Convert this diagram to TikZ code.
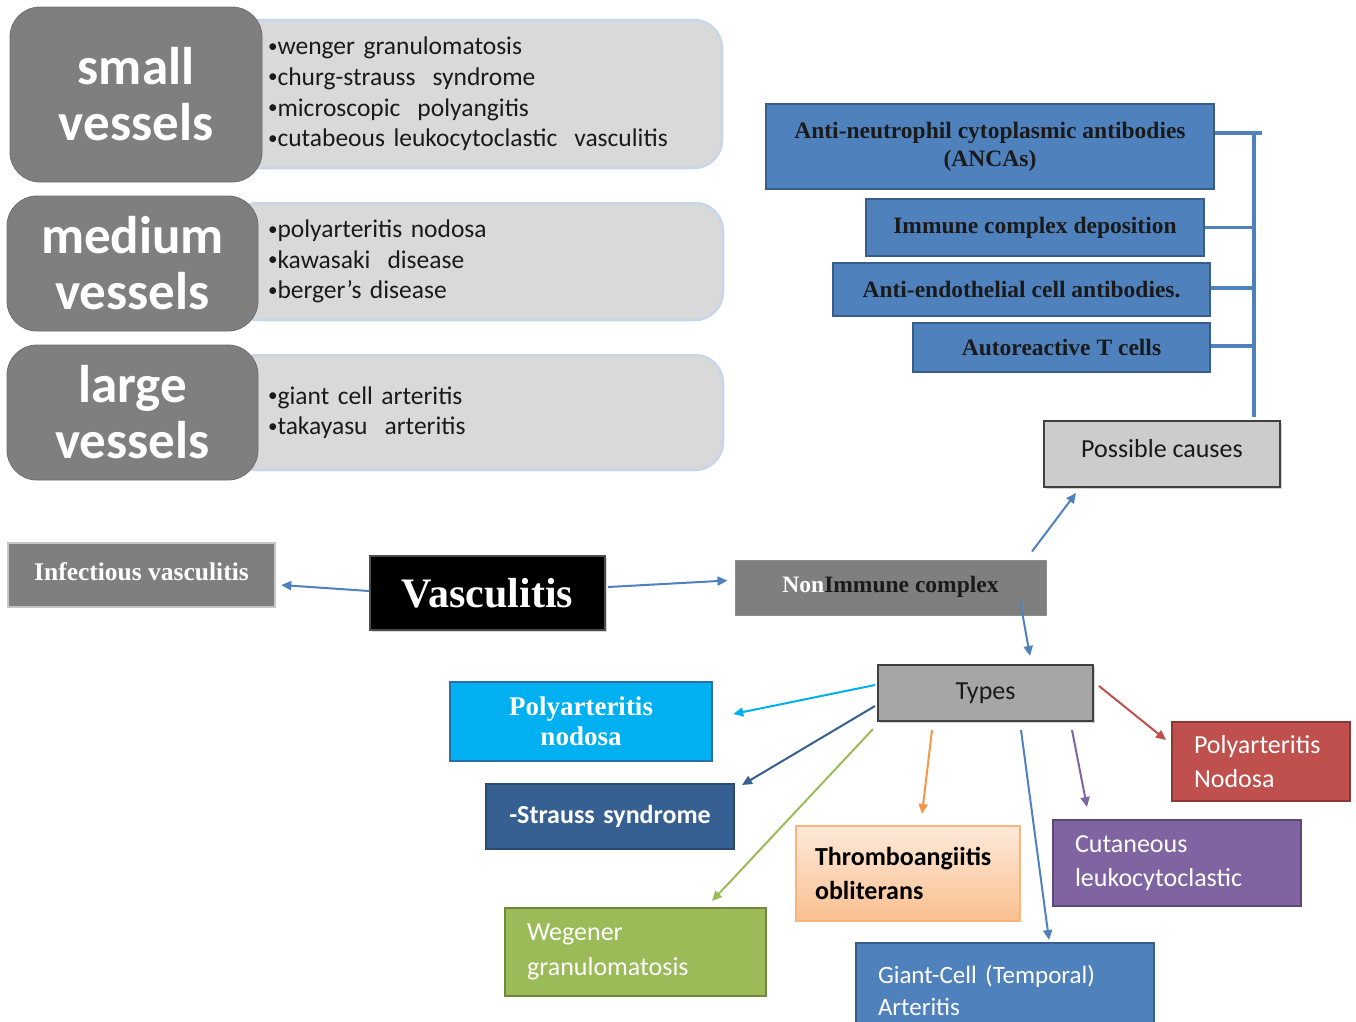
\documentclass[tikz,border=0pt]{standalone}
\usepackage{fontspec}
\setmainfont{Carlito}
\newfontfamily\serifb{Liberation Serif}
\usetikzlibrary{arrows.meta,shadows}
\newcommand\mybul{\raisebox{0.1em}{\scalebox{0.75}{•}}}
\definecolor{dgray}{HTML}{7F7F7F}
\definecolor{lgray}{HTML}{D9D9D9}
\definecolor{lborder}{HTML}{C9D6EA}
\definecolor{oblue}{HTML}{4F81BD}
\definecolor{oblueb}{HTML}{385D8A}
\definecolor{ocyan}{HTML}{00B0F0}
\definecolor{ocyanb}{HTML}{2A6FA8}
\definecolor{odblue}{HTML}{376092}
\definecolor{odblueb}{HTML}{2A4A70}
\definecolor{ogreen}{HTML}{9BBB59}
\definecolor{ogreenb}{HTML}{71893F}
\definecolor{opurple}{HTML}{8064A2}
\definecolor{opurpleb}{HTML}{5C4776}
\definecolor{ored}{HTML}{C0504D}
\definecolor{oredb}{HTML}{8C3836}
\definecolor{oorange}{HTML}{F79646}
\definecolor{peachtop}{HTML}{FDE9D9}
\definecolor{peachbot}{HTML}{FAC090}
\definecolor{ink}{HTML}{1A1A1A}
\tikzset{
  vesselbox/.style={fill=dgray, draw=dgray!85!black, line width=0.8pt, rounded corners=30pt,
    text=white, font=\fontsize{53}{56}\selectfont\bfseries, align=center, inner sep=0pt},
  listbox/.style={fill=lgray, draw=lborder, line width=2.5pt, rounded corners=28pt,
    font=\fontsize{25.5}{30.6}\selectfont, text=ink, align=left, inner xsep=38pt, inner ysep=0pt},
  bluebox/.style={fill=oblue, draw=oblueb, line width=2pt, text=ink,
    font=\serifb\bfseries\fontsize{23.5}{28}\selectfont, align=center, inner sep=0pt},
  graybox/.style={fill=dgray, draw=lgray!80!gray, line width=2.5pt, text=white,
    font=\serifb\bfseries\fontsize{25.5}{28}\selectfont, align=center, inner sep=0pt},
  typebox/.style={line width=2pt, text=white, font=\fontsize{26}{34.5}\selectfont,
    align=left, inner xsep=22pt, inner ysep=0pt},
  arr/.style={-{Triangle[length=10pt,width=9pt]}, line width=2pt},
  bus/.style={draw=oblue, line width=3.5pt},
}
\begin{document}
\begin{tikzpicture}[x=1pt,y=-1pt]
\useasboundingbox[fill=white] (0,0) rectangle (1356,1021);

% ---- vessel lists
\node[listbox, minimum width=492pt, minimum height=148pt, text width=416pt] (smalllist) at (476,94) {%
\mybul wenger granulomatosis\\\mybul churg-strauss\ \ syndrome\\\mybul microscopic\ \ polyangitis\\\mybul cutabeous leukocytoclastic\ \ vasculitis};
\node[vesselbox, minimum width=252pt, minimum height=175pt] (small) at (136,94.5) {small\\vessels};

\node[listbox, minimum width=493pt, minimum height=117pt, text width=417pt] (mediumlist) at (476.5,261.5) {%
\mybul polyarteritis nodosa\\\mybul kawasaki\ \ disease\\\mybul berger's disease};
\node[vesselbox, minimum width=251pt, minimum height=135pt] (medium) at (132.5,263.5) {medium\\vessels};

\node[listbox, minimum width=493pt, minimum height=115pt, text width=417pt] (largelist) at (476.5,412.5) {%
\mybul giant cell arteritis\\\mybul takayasu\ \ arteritis};
\node[vesselbox, minimum width=251pt, minimum height=135pt] (large) at (132.5,412.5) {large\\vessels};

% ---- possible causes
\node[bluebox, minimum width=448pt, minimum height=85pt] (anca) at (990,146.5)
  {Anti-neutrophil cytoplasmic antibodies\\(ANCAs)};
\node[bluebox, minimum width=338pt, minimum height=57pt] (icd) at (1035,227.5) {\raisebox{2pt}{Immune complex deposition}};
\node[bluebox, minimum width=377pt, minimum height=53pt] (aeca) at (1021.5,289.5) {Anti-endothelial cell antibodies.};
\node[bluebox, minimum width=297pt, minimum height=49pt] (atc) at (1061.5,347.5) {Autoreactive T cells};
\node[fill=lgray!85!gray, draw=black!75, line width=2pt, minimum width=236pt, minimum height=66pt,
  font=\fontsize{26}{30}\selectfont, text=ink, drop shadow={shadow xshift=2pt,shadow yshift=-2pt,opacity=0.35}]
  (causes) at (1162,454) {\raisebox{12pt}{Possible causes}};

\coordinate (bustop) at (1254,133);
\draw[bus] ([yshift=13.5pt]anca.east) -- (1262,133);
\draw[bus] (bustop) -- ([yshift=3pt]causes.north -| bustop);
\draw[bus] (icd.east) -- (icd.east -| bustop);
\draw[bus] ([yshift=1.5pt]aeca.east) -- ([yshift=1.5pt]aeca.east -| bustop);
\draw[bus] ([yshift=1.5pt]atc.east) -- ([yshift=1.5pt]atc.east -| bustop);

% ---- middle row
\node[graybox, minimum width=267pt, minimum height=64pt] (inf) at (141.5,575) {\raisebox{7pt}{Infectious vasculitis}};
\node[fill=black, draw=black!70, line width=2pt, minimum width=235pt, minimum height=74pt,
  text=white, font=\serifb\bfseries\fontsize{42}{44}\selectfont,
  drop shadow={shadow xshift=2pt,shadow yshift=-2pt,opacity=0.3}] (vasc) at (487.5,593) {Vasculitis};
\node[fill=dgray, draw=dgray!90!white, line width=1pt, minimum width=311pt, minimum height=55pt,
  font=\serifb\bfseries\fontsize{23.5}{26}\selectfont, text=ink] (nonimm) at (890.5,587.5)
  {\raisebox{6pt}{\textcolor{white}{Non}Immune complex}};

\draw[arr, oblue] ([shift={(0,-2)}]vasc.west) -- ([shift={(5,10)}]inf.east);
\draw[arr, oblue] ([shift={(2,-6)}]vasc.east) -- ([shift={(-7,-7)}]nonimm.west);
\draw[arr, oblue] ([shift={(141.5,-8)}]nonimm.north) -- ([shift={(-86,5)}]causes.south);

% ---- types
\node[fill=gray!70, draw=black!75, line width=2pt, minimum width=215pt, minimum height=56pt,
  font=\fontsize{26}{30}\selectfont, text=ink, drop shadow={shadow xshift=2pt,shadow yshift=-2pt,opacity=0.35}]
  (types) at (985.5,693) {\raisebox{3pt}{Types}};
\draw[arr, oblue] ([shift={(129.5,-15)}]nonimm.south) -- ([shift={(44.5,-8)}]types.north);

\node[fill=ocyan, draw=ocyanb, line width=2.5pt, minimum width=262pt, minimum height=79pt, text=white,
  font=\serifb\bfseries\fontsize{27}{30}\selectfont, align=center, inner sep=0pt] (pan1) at (581,721.5)
  {Polyarteritis\\nodosa};
\node[typebox, fill=odblue, draw=odblueb, minimum width=248pt, minimum height=65pt, text width=230pt,
  align=center, font=\fontsize{26}{30}\selectfont\bfseries, inner xsep=9pt] (strauss) at (610,816.5)
  {\raisebox{4pt}{-Strauss syndrome}};
\node[typebox, fill=ogreen, draw=ogreenb, minimum width=261pt, minimum height=88pt, text width=217pt]
  (wegener) at (635.5,952) {Wegener\\granulomatosis};
\node[typebox, top color=peachtop, bottom color=peachbot, draw=oorange!70, text=black,
  font=\fontsize{26}{34.5}\selectfont\bfseries, minimum width=224pt, minimum height=95pt, text width=186pt,
  inner xsep=19pt] (thrombo) at (908,873.5) {Thromboangiitis\\[-1pt]obliterans\\[4pt]};
\node[typebox, fill=oblue, draw=oblueb, minimum width=298pt, minimum height=100pt, text width=254pt,
  font=\fontsize{25}{32}\selectfont]
  (giant) at (1005,993) {\raisebox{11pt}{\begin{tabular}{@{}l@{}}Giant-Cell (Temporal)\\Arteritis\end{tabular}}};
\node[typebox, fill=opurple, draw=opurpleb, minimum width=248pt, minimum height=86pt, text width=204pt]
  (cutan) at (1177,863) {Cutaneous\\leukocytoclastic};
\node[typebox, fill=ored, draw=oredb, minimum width=178pt, minimum height=79pt, text width=134pt]
  (pan2) at (1261,761.5) {Polyarteritis\\Nodosa};

\draw[arr, ocyan] ([shift={(-2,-8)}]types.west) -- ([shift={(20,-7.5)}]pan1.east);
\draw[arr, odblue] ([shift={(-2,13)}]types.west) -- ([shift={(7,2)}]strauss.north east);
\draw[arr, ogreen] ([shift={(-4,7)}]types.south west) -- ([shift={(76.5,-6)}]wegener.north);
\draw[arr, oorange] ([shift={(-53.5,8)}]types.south) -- ([shift={(14,-11)}]thrombo.north);
\draw[arr, oblue] ([shift={(35.5,8)}]types.south) -- ([shift={(44,-2)}]giant.north);
\draw[arr, opurple] ([shift={(86.5,8)}]types.south) -- ([shift={(-90,-12)}]cutan.north);
\draw[arr, ored] ([shift={(5,-7)}]types.east) -- ([shift={(-5,-21.5)}]pan2.west);
\end{tikzpicture}
\end{document}
